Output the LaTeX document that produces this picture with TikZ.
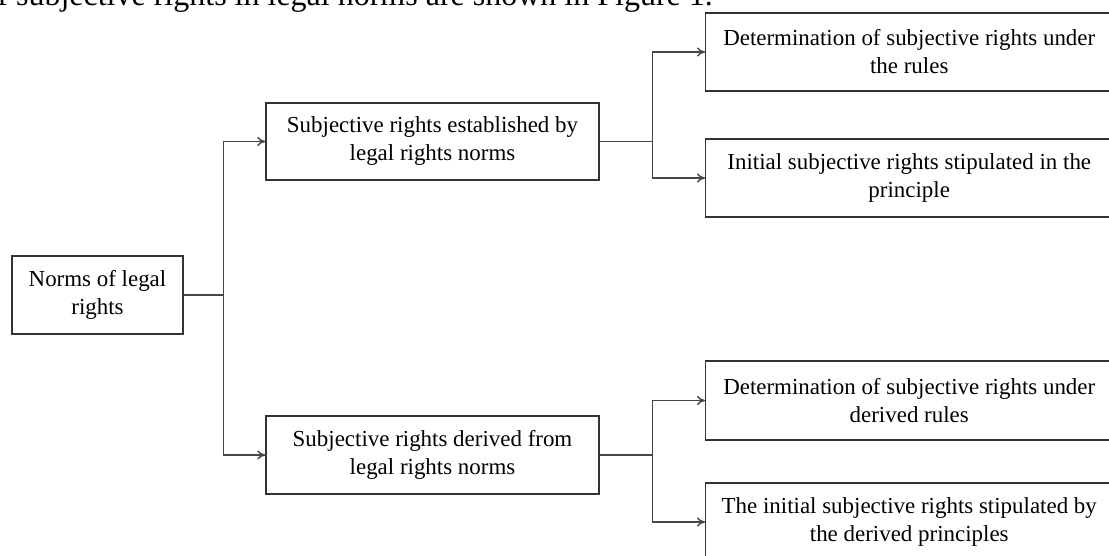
\documentclass[tikz,border=0pt]{standalone}
\usepackage{fontspec}
\setmainfont{Liberation Serif}
\usetikzlibrary{arrows.meta,positioning}

\tikzset{
	rbox/.style={draw=black!80,line width=1.1pt,align=center,inner sep=0pt,
		font=\fontsize{17.2}{21}\selectfont},
	link/.style={draw=black!72,line width=1.1pt}
}

\begin{document}
\begin{tikzpicture}[x=0.75pt,y=-0.75pt,>={To[length=6pt,width=7pt]},semithick]
			\useasboundingbox (0,0) rectangle (1109,556);
			\clip (0,0) rectangle (1109,556);
			% running text cut by the top edge
			\node[anchor=base west,inner sep=0pt,font=\fontsize{24}{28}\selectfont] (cap) at (-3,5.5)
				{f subjective rights in legal norms are shown in Figure 1.};

			\node[rbox,minimum width=128.25pt,minimum height=58.5pt] (N) at (97.5,295) {Norms of legal\\rights};
			\node[rbox,minimum width=249.75pt,minimum height=57.75pt] (S1) at (432.5,141.5) {Subjective rights established by\\legal rights norms};
			\node[rbox,minimum width=249.75pt,minimum height=58.5pt] (S2) at (432.5,455) {Subjective rights derived from\\legal rights norms};
			\node[rbox,minimum width=305.25pt,minimum height=58.5pt,anchor=west] (R1) at (705,52) {Determination of subjective rights under\\the rules};
			\node[rbox,minimum width=305.25pt,minimum height=58.5pt,anchor=west] (R2) at (705,178) {Initial subjective rights stipulated in the\\principle};
			\node[rbox,minimum width=305.25pt,minimum height=59.25pt,anchor=west] (R3) at (705,400.5) {Determination of subjective rights under\\derived rules};
			\node[rbox,minimum width=305.25pt,minimum height=58.5pt,anchor=west] (R4) at (705,522) {The initial subjective rights stipulated by\\the derived principles};

			% branches
			\draw[link] (N.east) -- ++(40,0) coordinate (jN);
			\draw[link,->] (jN) |- (S1.west);
			\draw[link,->] (jN) |- (S2.west);
			\draw[link] (S1.east) -- ++(53,0) coordinate (j1);
			\draw[link,->] (j1) |- (R1.west);
			\draw[link,->] (j1) |- (R2.west);
			\draw[link] (S2.east) -- ++(53,0) coordinate (j2);
			\draw[link,->] (j2) |- (R3.west);
			\draw[link,->] (j2) |- (R4.west);
\end{tikzpicture}
\end{document}
